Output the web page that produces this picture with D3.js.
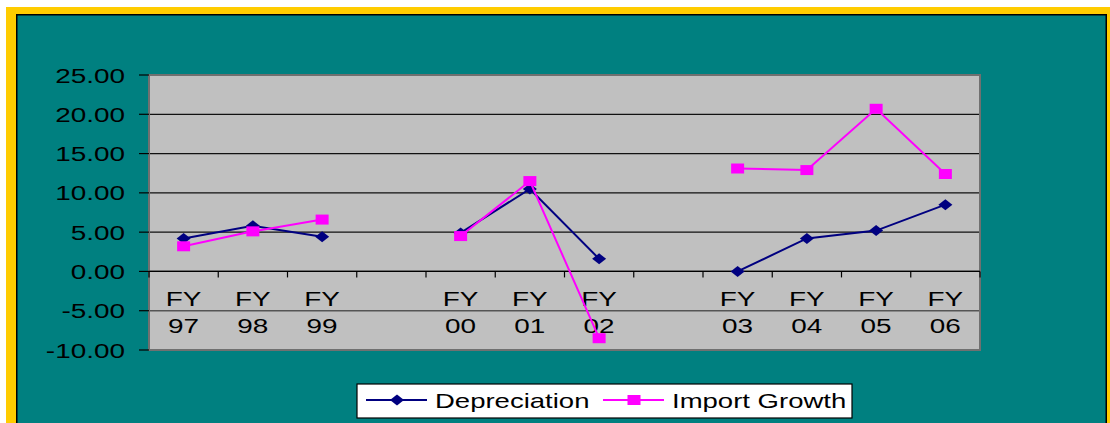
<!DOCTYPE html>
<html>
<head>
<meta charset="utf-8">
<script src="https://cdn.jsdelivr.net/npm/d3@7"></script>
<style>
  body { margin: 0; background: #fff; }
  text { font-family: "Liberation Sans", Arial, sans-serif; fill: #000; }
</style>
</head>
<body>
<div id="container"></div>
<script>
/* DATA */
const categories = ["FY97", "FY98", "FY99", "", "FY00", "FY01", "FY02", "", "FY03", "FY04", "FY05", "FY06"];
const depreciation = [4.2, 5.8, 4.4, null, 4.9, 10.5, 1.6, null, 0.0, 4.2, 5.2, 8.5];
const importGrowth = [3.2, 5.1, 6.6, null, 4.5, 11.5, -8.5, null, 13.1, 12.9, 20.7, 12.4];
const yTicks = [25, 20, 15, 10, 5, 0, -5, -10];
const seriesNames = ["Depreciation", "Import Growth"];

/* CONSTANTS */
const width = 1110, height = 423;
const plot = { left: 149, right: 980, top: 75, bottom: 350 };
const sx = 1.33; // text is stretched sideways in the original

const svg = d3.select("#container")
  .append("svg")
  .attr("width", width)
  .attr("height", height);

// frame: yellow border, black line, teal background
svg.append("rect").attr("x", 6).attr("y", 7).attr("width", width - 6).attr("height", height - 7).attr("fill", "#FFCC00");
svg.append("rect").attr("x", 16).attr("y", 14).attr("width", 1091).attr("height", height).attr("fill", "#000");
svg.append("rect").attr("x", 17.5).attr("y", 15.5).attr("width", 1088).attr("height", height).attr("fill", "#008080");

// SCALES
const x = d3.scaleBand()
  .domain(d3.range(categories.length))
  .range([plot.left, plot.right]);

const y = d3.scaleLinear()
  .domain([-10, 25])
  .range([plot.bottom, plot.top]);

// hyphen minus like the original, not the unicode one
const fmt = d3.formatLocale({ decimal: ".", thousands: ",", grouping: [3], currency: ["", ""], minus: "-" }).format(".2f");

// plot background
svg.append("rect")
  .attr("x", plot.left).attr("y", plot.top)
  .attr("width", plot.right - plot.left).attr("height", plot.bottom - plot.top)
  .attr("fill", "#C0C0C0");

// gridlines
svg.selectAll("line.grid")
  .data(yTicks.filter(d => d !== 25 && d !== -10))
  .join("line")
  .attr("class", "grid")
  .attr("x1", plot.left).attr("x2", plot.right)
  .attr("y1", d => y(d)).attr("y2", d => y(d))
  .attr("stroke", d => d === -5 ? "#555" : "#111")
  .attr("stroke-width", d => d === -5 ? 1.6 : 1.2);

// plot border
svg.append("rect")
  .attr("x", plot.left).attr("y", plot.top)
  .attr("width", plot.right - plot.left).attr("height", plot.bottom - plot.top)
  .attr("fill", "none")
  .attr("stroke", "#707070")
  .attr("stroke-width", 2);

// y axis ticks + labels
svg.selectAll("line.ytick")
  .data(yTicks)
  .join("line")
  .attr("class", "ytick")
  .attr("x1", plot.left - 10).attr("x2", plot.left)
  .attr("y1", d => y(d)).attr("y2", d => y(d))
  .attr("stroke", "#000").attr("stroke-width", 1.2);

svg.selectAll("text.ylab")
  .data(yTicks)
  .join("text")
  .attr("class", "ylab")
  .attr("text-anchor", "end")
  .attr("dy", "0.36em")
  .attr("font-size", 21)
  .attr("transform", d => `translate(125, ${y(d)}) scale(${sx},1)`)
  .text(fmt);

// x axis line at zero + ticks
svg.append("line")
  .attr("x1", plot.left).attr("x2", plot.right)
  .attr("y1", y(0)).attr("y2", y(0))
  .attr("stroke", "#000").attr("stroke-width", 1.2);

svg.selectAll("line.xtick")
  .data(d3.range(categories.length + 1))
  .join("line")
  .attr("class", "xtick")
  .attr("x1", i => plot.left + i * x.step()).attr("x2", i => plot.left + i * x.step())
  .attr("y1", y(0)).attr("y2", y(0) + 6)
  .attr("stroke", "#000").attr("stroke-width", 1.2);

// x labels, two lines
const xl = svg.selectAll("g.xlab")
  .data(categories.map((c, i) => ({ c, i })).filter(d => d.c))
  .join("g")
  .attr("class", "xlab");

xl.append("text")
  .attr("text-anchor", "middle")
  .attr("font-size", 21)
  .attr("transform", d => `translate(${x(d.i) + x.bandwidth() / 2}, 306) scale(${sx},1)`)
  .text(d => d.c.slice(0, 2));

xl.append("text")
  .attr("text-anchor", "middle")
  .attr("font-size", 21)
  .attr("transform", d => `translate(${x(d.i) + x.bandwidth() / 2}, 333) scale(${sx},1)`)
  .text(d => d.c.slice(2));

// LINES
const lineGen = d3.line()
  .defined(d => d.v !== null)
  .x(d => x(d.i) + x.bandwidth() / 2)
  .y(d => y(d.v));

const series = [
  { name: seriesNames[0], values: depreciation, color: "#000080", marker: "diamond" },
  { name: seriesNames[1], values: importGrowth, color: "#FF00FF", marker: "square" }
];

function drawMarker(sel, type, color) {
  if (type === "diamond") {
    sel.append("path").attr("d", "M-7,0 L0,-5.5 L7,0 L0,5.5 Z").attr("fill", color);
  } else {
    sel.append("rect").attr("x", -6.5).attr("y", -5).attr("width", 13).attr("height", 10).attr("fill", color);
  }
}

series.forEach(s => {
  const pts = s.values.map((v, i) => ({ v, i }));
  svg.append("path")
    .datum(pts)
    .attr("fill", "none")
    .attr("stroke", s.color)
    .attr("stroke-width", 2)
    .attr("d", lineGen);

  svg.selectAll(null)
    .data(pts.filter(d => d.v !== null))
    .join("g")
    .attr("transform", d => `translate(${x(d.i) + x.bandwidth() / 2}, ${y(d.v)})`)
    .each(function () { drawMarker(d3.select(this), s.marker, s.color); });
});

// LEGEND
const legend = svg.append("g");
legend.append("rect")
  .attr("x", 357).attr("y", 384).attr("width", 495).attr("height", 34)
  .attr("fill", "#fff").attr("stroke", "#000").attr("stroke-width", 1.2);

const legendX = [366, 603];
series.forEach((s, k) => {
  const g = legend.append("g").attr("transform", `translate(${legendX[k]}, 400)`);
  g.append("line").attr("x1", 0).attr("x2", 61).attr("y1", 0).attr("y2", 0)
    .attr("stroke", s.color).attr("stroke-width", 2);
  const m = g.append("g").attr("transform", "translate(31,0)");
  drawMarker(m, s.marker, s.color);
  g.append("text")
    .attr("dy", "0.36em")
    .attr("font-size", 21)
    .attr("transform", `translate(69,0) scale(${1.31},1)`)
    .text(s.name);
});
</script>
</body>
</html>
